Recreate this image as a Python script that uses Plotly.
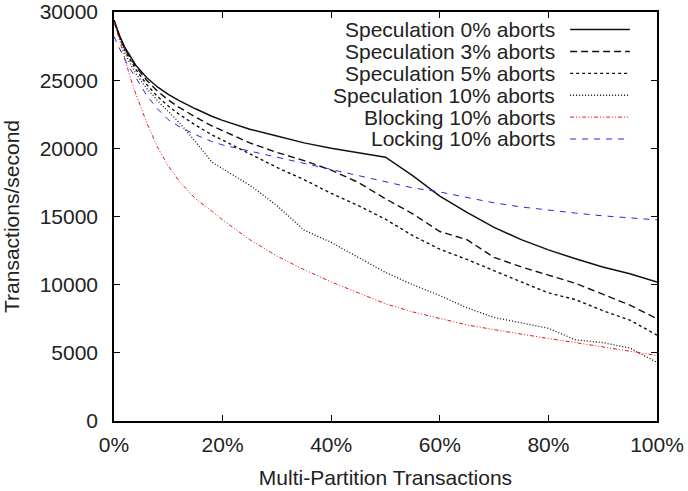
import plotly.graph_objects as go

# ---- data ----
pct = [0, 1, 2, 3, 4, 6, 8, 10, 12, 15, 18, 20, 25, 30, 35, 40, 45, 50,
       55, 60, 65, 70, 75, 80, 85, 90, 95, 100]

spec0 = [29400, 28300, 27400, 26700, 26100, 25200, 24500, 23950, 23500, 22900,
         22350, 22050, 21400, 20900, 20400, 20000, 19700, 19350, 18000, 16500,
         15300, 14200, 13300, 12550, 11900, 11300, 10800, 10200]
spec3 = [29400, 28200, 27300, 26600, 26000, 25000, 24200, 23550, 23000, 22300,
         21650, 21300, 20400, 19700, 19100, 18400, 17500, 16300, 15200, 13900,
         13300, 12000, 11300, 10700, 10100, 9300, 8500, 7500]
spec5 = [29400, 28200, 27200, 26500, 25800, 24700, 23800, 23100, 22500, 21700,
         21000, 20600, 19600, 18600, 17700, 16700, 15800, 14800, 13600, 12600,
         11850, 11000, 10200, 9400, 8900, 8100, 7400, 6300]
spec10 = [29300, 28100, 27000, 26200, 25500, 24400, 23500, 22700, 21900, 20500,
          19000, 18500, 17300, 15800, 14000, 13100, 12000, 10900, 10000, 9200,
          8300, 7600, 7200, 6800, 5950, 5750, 5350, 4300]
blocking = [29300, 27900, 26600, 25200, 24000, 21900, 20100, 18700, 17600, 16300,
            15400, 14750, 13300, 12100, 11100, 10200, 9400, 8600, 8000, 7500,
            7050, 6700, 6350, 6050, 5750, 5450, 5150, 4800]
locking = [28200, 27300, 26500, 25800, 25200, 23900, 22900, 22100, 21600, 21000,
           20500, 20250, 19800, 19300, 18900, 18400, 17950, 17500, 17100, 16800,
           16400, 16000, 15700, 15450, 15250, 15050, 14900, 14750]

names = ["Speculation 0% aborts", "Speculation 3% aborts", "Speculation 5% aborts",
         "Speculation 10% aborts", "Blocking 10% aborts", "Locking 10% aborts"]
series = [spec0, spec3, spec5, spec10, blocking, locking]

x_ticks = [0, 20, 40, 60, 80, 100]
y_ticks = [0, 5000, 10000, 15000, 20000, 25000, 30000]

# ---- styles ----
colors = ["#111111", "#111111", "#111111", "#111111", "#e01818", "#2828e0"]
dashes = ["solid", "7px,4px", "3px,3px", "1px,2px", "4px,2px,1px,2px,1px,2px", "6px,6px"]
widths = [1.5, 1.4, 1.4, 1.3, 1.0, 1.0]

FONT = "Liberation Sans, Arial, sans-serif"
FS = 21
TXT = "#222222"

fig = go.Figure()
for name, ys, c, d, w in zip(names, series, colors, dashes, widths):
    fig.add_trace(go.Scatter(x=pct, y=ys, mode="lines", name=name,
                             line=dict(color=c, dash=d, width=w),
                             showlegend=False))

# manual legend (text right-aligned, sample on the right, gnuplot style)
row_top = 0.957
row_step = 0.0535
for i, (name, c, d, w) in enumerate(zip(names, colors, dashes, widths)):
    yy = row_top - i * row_step
    fig.add_annotation(x=0.816, y=yy, xref="paper", yref="paper",
                       text=name, showarrow=False, xanchor="right", yanchor="middle",
                       font=dict(family=FONT, size=FS, color=TXT))
    fig.add_shape(type="line", xref="paper", yref="paper",
                  x0=0.840, x1=0.950, y0=yy, y1=yy,
                  line=dict(color=c, dash=d, width=w))

axis_common = dict(showline=True, linecolor="black", linewidth=1.5, mirror="ticks",
                   ticks="inside", ticklen=6, tickwidth=1, tickcolor="black",
                   showgrid=False, zeroline=False, automargin=False,
                   tickfont=dict(family=FONT, size=FS, color=TXT))

fig.update_xaxes(range=[0, 100], tickvals=x_ticks,
                 ticktext=[f"{v}%" for v in x_ticks],
                 title=dict(text="Multi-Partition Transactions",
                            font=dict(family=FONT, size=FS, color=TXT)),
                 ticklabelstandoff=4, **axis_common)
fig.update_yaxes(range=[0, 30000], tickvals=y_ticks,
                 ticktext=[str(v) for v in y_ticks],
                 title=dict(text="Transactions/second",
                            font=dict(family=FONT, size=FS, color=TXT)),
                 ticklabelstandoff=10, **axis_common)

fig.update_layout(width=688, height=491,
                  margin=dict(l=114, r=31, t=12, b=70),
                  paper_bgcolor="white", plot_bgcolor="white",
                  showlegend=False)

fig.write_html("out.html")
